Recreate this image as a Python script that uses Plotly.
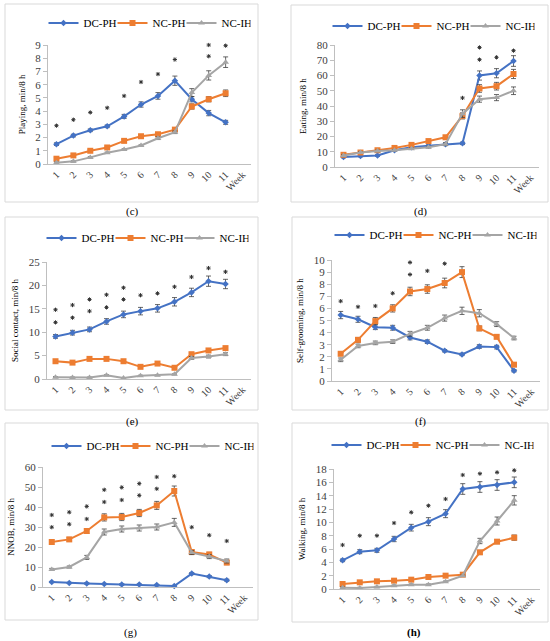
import plotly.graph_objects as go

W, H = 550, 641
FONT = "Liberation Serif"

weeks = list(range(1, 12))
tick_positions = list(range(1, 13))
tick_labels = [str(w) for w in weeks] + ["Week"]
series_names = ["DC-PH", "NC-PH", "NC-IH"]

# (c) Playing
play_dc = [1.5, 2.15, 2.55, 2.85, 3.6, 4.5, 5.15, 6.3, 4.9, 3.85, 3.15]
play_nc_ph = [0.4, 0.65, 1.0, 1.25, 1.75, 2.1, 2.25, 2.6, 4.35, 4.9, 5.35]
play_nc_ih = [0.1, 0.2, 0.5, 0.85, 1.1, 1.4, 1.95, 2.4, 5.4, 6.7, 7.7]
play_dc_err = [0.1, 0.1, 0.1, 0.1, 0.15, 0.2, 0.25, 0.35, 0.2, 0.2, 0.15]
play_nc_ph_err = [0.1, 0.1, 0.1, 0.1, 0.1, 0.1, 0.1, 0.1, 0.2, 0.2, 0.25]
play_nc_ih_err = [0.05, 0.05, 0.05, 0.05, 0.05, 0.05, 0.1, 0.1, 0.3, 0.35, 0.4]
play_star_x = [1, 2, 3, 4, 5, 6, 7, 8, 10, 10, 11, 11]
play_star_y = [2.9, 3.35, 3.9, 4.25, 5.15, 6.2, 6.8, 7.9, 8.15, 9.0, 8.95, 9.9]

# (d) Eating
eat_dc = [6.5, 7.2, 7.5, 11, 13, 14, 15, 15.5, 60, 61.5, 69.5]
eat_nc_ph = [8, 9.5, 11, 12.5, 14.5, 17, 19.5, 33.5, 51.5, 53, 61]
eat_nc_ih = [7.5, 9.5, 10.5, 11, 12, 13, 15, 35, 44.5, 45.5, 50]
eat_dc_err = [0.5, 0.5, 0.5, 0.5, 0.5, 0.5, 0.5, 0.8, 3, 3, 3.5]
eat_nc_ph_err = [0.5, 0.5, 0.5, 0.5, 0.5, 0.5, 0.8, 2, 2.5, 2.5, 3]
eat_nc_ih_err = [0.5, 0.5, 0.5, 0.5, 0.5, 0.5, 1, 2.5, 2, 2, 2.5]
eat_star_x = [8, 9, 9, 10, 10, 11, 11]
eat_star_y = [45.3, 70.4, 78.4, 71.9, 80.2, 76.3, 84.3]

# (e) Social contact
soc_dc = [9.1, 9.9, 10.6, 12.3, 13.8, 14.5, 15.1, 16.5, 18.5, 20.9, 20.3]
soc_nc_ph = [3.8, 3.5, 4.3, 4.3, 3.8, 2.6, 3.3, 2.4, 5.3, 6.1, 6.6]
soc_nc_ih = [0.4, 0.3, 0.3, 0.8, 0.2, 0.7, 0.8, 1.0, 4.5, 4.8, 5.3]
soc_dc_err = [0.4, 0.5, 0.5, 0.6, 0.7, 0.8, 0.8, 0.9, 0.9, 1.1, 1.0]
soc_nc_ph_err = [0.2, 0.2, 0.2, 0.2, 0.2, 0.2, 0.2, 0.2, 0.3, 0.3, 0.3]
soc_nc_ih_err = [0.1, 0.1, 0.1, 0.1, 0.1, 0.1, 0.1, 0.1, 0.3, 0.3, 0.3]
soc_star_x = [1, 1, 2, 2, 3, 3, 4, 4, 5, 5, 6, 7, 8, 9, 10, 11]
soc_star_y = [12.1, 14.8, 13.1, 15.8, 14.5, 17.0, 15.3, 18.0, 17.0, 19.5,
              17.9, 18.3, 19.7, 21.8, 23.7, 22.9]

# (f) Self-grooming
groom_dc = [5.45, 5.1, 4.45, 4.4, 3.6, 3.25, 2.5, 2.2, 2.85, 2.8, 0.85]
groom_nc_ph = [2.25, 3.4, 4.95, 6.0, 7.4, 7.6, 8.1, 9.0, 4.35, 3.65, 1.35]
groom_nc_ih = [1.75, 2.9, 3.15, 3.25, 3.9, 4.4, 5.2, 5.8, 5.6, 4.7, 3.55]
groom_dc_err = [0.3, 0.25, 0.2, 0.2, 0.2, 0.15, 0.1, 0.1, 0.15, 0.15, 0.1]
groom_nc_ph_err = [0.15, 0.2, 0.3, 0.3, 0.35, 0.35, 0.4, 0.45, 0.2, 0.15, 0.1]
groom_nc_ih_err = [0.15, 0.15, 0.15, 0.15, 0.2, 0.2, 0.25, 0.3, 0.3, 0.2, 0.15]
groom_star_x = [1, 2, 3, 4, 5, 5, 6, 6, 7, 7, 8, 8]
groom_star_y = [6.6, 6.13, 6.2, 7.25, 8.8, 9.8, 9.1, 10.05, 9.7, 10.75, 10.3, 11.4]

# (g) NNOB
nnob_dc = [2.5, 2.0, 1.8, 1.5, 1.3, 1.2, 1.0, 0.5, 6.7, 5.2, 3.4]
nnob_nc_ph = [22.5, 23.8, 28, 34.8, 35, 37, 40.8, 48, 17.5, 16.3, 12.2]
nnob_nc_ih = [8.8, 10, 14.8, 27.5, 29, 29.5, 30, 32.3, 17.2, 15.2, 13]
nnob_dc_err = [0.3, 0.3, 0.3, 0.3, 0.3, 0.3, 0.3, 0.3, 0.5, 0.5, 0.5]
nnob_nc_ph_err = [1, 1, 1.2, 1.8, 1.8, 1.8, 2, 2.5, 1, 1, 1]
nnob_nc_ih_err = [0.5, 0.5, 1, 1.5, 1.5, 1.5, 1.5, 2, 1, 1, 1]
nnob_star_x = [1, 1, 2, 2, 3, 3, 4, 4, 5, 5, 6, 6, 7, 7, 8, 8, 9, 10, 11]
nnob_star_y = [29.9, 36, 31.4, 37.4, 34, 40.3, 42.5, 48.6, 43.5, 49.8,
               45.8, 51.7, 49.1, 55, 55.4, 61.3, 29.9, 25.9, 23]

# (h) Walking
walk_dc = [4.3, 5.6, 5.8, 7.5, 9.2, 10.1, 11.3, 15, 15.3, 15.6, 16]
walk_nc_ph = [0.75, 1.0, 1.15, 1.25, 1.4, 1.8, 2.0, 2.15, 5.5, 7.1, 7.7]
walk_nc_ih = [0.2, 0.15, 0.3, 0.5, 0.65, 0.65, 1.1, 2.0, 7.2, 10.2, 13.3]
walk_dc_err = [0.2, 0.3, 0.3, 0.4, 0.5, 0.6, 0.6, 0.8, 0.8, 0.8, 0.8]
walk_nc_ph_err = [0.1, 0.1, 0.1, 0.1, 0.1, 0.1, 0.1, 0.1, 0.3, 0.3, 0.4]
walk_nc_ih_err = [0.1, 0.1, 0.1, 0.1, 0.1, 0.1, 0.1, 0.1, 0.4, 0.6, 0.7]
walk_star_x = [1, 2, 3, 4, 5, 6, 7, 8, 9, 9, 10, 10, 11, 11]
walk_star_y = [6.6, 8.0, 8.0, 9.9, 11.5, 12.5, 13.5, 17.1, 17.3, 19.1, 17.5, 19.2, 17.8, 19.7]

colors = ["#4472C4", "#ED7D31", "#A5A5A5"]
symbols = ["diamond", "square", "triangle-up"]
msizes = [5, 6, 6]
STAR_COLOR = "#333333"

# panel specs: data + layout (pixel boxes)
panels = [
    dict(cap="(c)", ytitle="Playing, min/8 h", ymax=9, dtick=1,
         data=[(play_dc, play_dc_err), (play_nc_ph, play_nc_ph_err), (play_nc_ih, play_nc_ih_err)],
         stars=(play_star_x, play_star_y),
         plot=(48, 251, 45, 164), border=(5, 258, 4, 202), leg=(147, 23), capxy=(132, 211)),
    dict(cap="(d)", ytitle="Eating, min/8 h", ymax=80, dtick=10,
         data=[(eat_dc, eat_dc_err), (eat_nc_ph, eat_nc_ph_err), (eat_nc_ih, eat_nc_ih_err)],
         stars=(eat_star_x, eat_star_y),
         plot=(335, 539, 45, 167), border=(291, 548, 5, 202), leg=(431, 26), capxy=(420, 211)),
    dict(cap="(e)", ytitle="Social contact, min/8 h", ymax=25, dtick=5,
         data=[(soc_dc, soc_dc_err), (soc_nc_ph, soc_nc_ph_err), (soc_nc_ih, soc_nc_ih_err)],
         stars=(soc_star_x, soc_star_y),
         plot=(47, 251, 262, 379), border=(5, 258, 217, 410), leg=(145, 238), capxy=(132, 421)),
    dict(cap="(f)", ytitle="Self-grooming, min/8 h", ymax=10, dtick=1,
         data=[(groom_dc, groom_dc_err), (groom_nc_ph, groom_nc_ph_err), (groom_nc_ih, groom_nc_ih_err)],
         stars=(groom_star_x, groom_star_y),
         plot=(332, 540, 260, 381), border=(292, 548, 217, 410), leg=(433, 235), capxy=(420, 421)),
    dict(cap="(g)", ytitle="NNOB, min/8 h", ymax=60, dtick=10,
         data=[(nnob_dc, nnob_dc_err), (nnob_nc_ph, nnob_nc_ph_err), (nnob_nc_ih, nnob_nc_ih_err)],
         stars=(nnob_star_x, nnob_star_y),
         plot=(43, 253, 467, 587), border=(5, 258, 423, 620), leg=(150, 446), capxy=(130, 632)),
    dict(cap="<b>(h)</b>", ytitle="Walking, min/8 h", ymax=18, dtick=2,
         data=[(walk_dc, walk_dc_err), (walk_nc_ph, walk_nc_ph_err), (walk_nc_ih, walk_nc_ih_err)],
         stars=(walk_star_x, walk_star_y),
         plot=(334, 540, 469, 589), border=(292, 548, 423, 622), leg=(430, 445), capxy=(414, 632)),
]

fig = go.Figure()
shapes, annotations = [], []
layout_updates = {}

for i, p in enumerate(panels, start=1):
    sfx = "" if i == 1 else str(i)
    xref, yref = f"x{sfx}", f"y{sfx}"
    legname = "legend" if i == 1 else f"legend{i}"
    for k, (vals, errs) in enumerate(p["data"]):
        fig.add_trace(go.Scatter(
            x=weeks, y=vals, name=series_names[k], mode="lines+markers",
            xaxis=xref, yaxis=yref, legend=legname,
            line=dict(color=colors[k], width=2),
            marker=dict(symbol=symbols[k], size=msizes[k], color=colors[k]),
            error_y=dict(type="data", array=errs, color="#404040", thickness=0.8, width=2.5),
            cliponaxis=False,
        ))
    sx, sy = p["stars"]
    fig.add_trace(go.Scatter(
        x=sx, y=sy, mode="markers", showlegend=False,
        xaxis=xref, yaxis=yref, cliponaxis=False,
        marker=dict(symbol="asterisk-open", size=3.5, color=STAR_COLOR,
                    line=dict(color=STAR_COLOR, width=1)),
        hoverinfo="skip",
    ))
    x0, x1, yt, yb = p["plot"]
    layout_updates[f"xaxis{sfx}"] = dict(
        domain=[x0 / W, x1 / W], anchor=yref, range=[0.5, 12.5],
        tickmode="array", tickvals=tick_positions, ticktext=tick_labels,
        tickangle=-45, showgrid=False, zeroline=False, showline=True,
        linecolor="#BFBFBF", linewidth=1, ticks="",
        tickfont=dict(family=FONT, size=10, color="#404040"), automargin=False,
    )
    layout_updates[f"yaxis{sfx}"] = dict(
        domain=[1 - yb / H, 1 - yt / H], anchor=xref, range=[0, p["ymax"]],
        dtick=p["dtick"], tick0=0, showgrid=False, zeroline=False, showline=True,
        linecolor="#BFBFBF", linewidth=1, ticks="outside", ticklen=4, tickcolor="#BFBFBF",
        tickfont=dict(family=FONT, size=11, color="#404040"), automargin=False,
        title=dict(text=p["ytitle"], font=dict(family=FONT, size=9, color="#000000"), standoff=8),
    )
    lx, ly = p["leg"]
    layout_updates[legname] = dict(
        orientation="h", x=lx / W, y=1 - ly / H, xanchor="center", yanchor="middle",
        font=dict(family=FONT, size=11, color="#000000"), bgcolor="rgba(0,0,0,0)",
        itemwidth=30, entrywidth=24, tracegroupgap=0,
    )
    bx0, bx1, by0, by1 = p["border"]
    shapes.append(dict(type="rect", xref="paper", yref="paper",
                       x0=bx0 / W, x1=bx1 / W, y0=1 - by1 / H, y1=1 - by0 / H,
                       line=dict(color="#D9D9D9", width=1), layer="below"))
    cx, cy = p["capxy"]
    annotations.append(dict(text=p["cap"], xref="paper", yref="paper", x=cx / W, y=1 - cy / H,
                            showarrow=False, xanchor="center", yanchor="middle",
                            font=dict(family=FONT, size=11, color="#000000")))

fig.update_layout(
    width=W, height=H, margin=dict(l=0, r=0, t=0, b=0),
    paper_bgcolor="white", plot_bgcolor="white",
    shapes=shapes, annotations=annotations, **layout_updates,
)

fig.write_html("out.html", config={"displayModeBar": False},
               post_script="document.body.style.margin='0px';")
